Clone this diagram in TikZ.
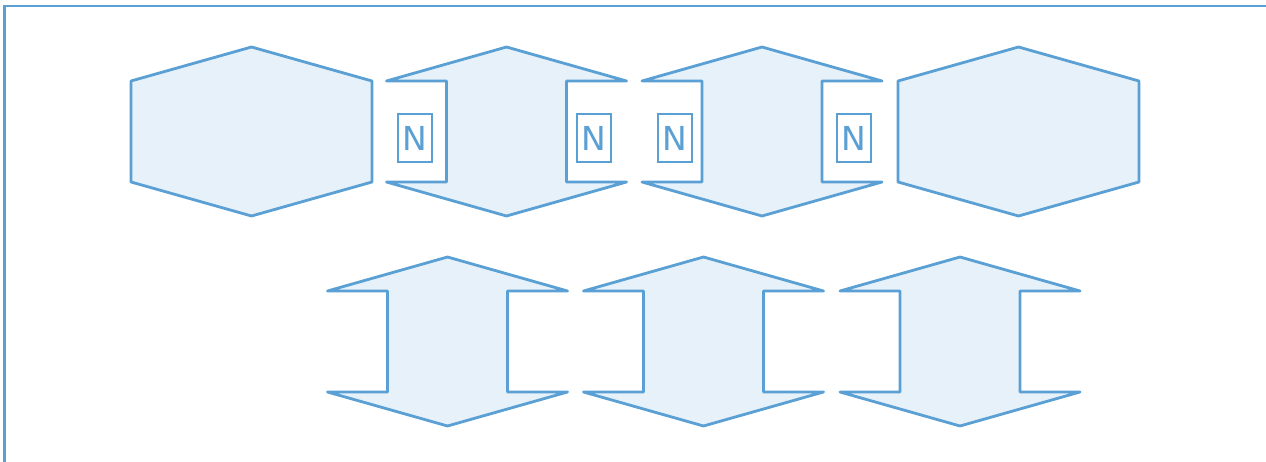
\documentclass[tikz,border=0pt]{standalone}
\usepackage{fontspec}
\setmainfont{DejaVu Sans}
\definecolor{edge}{RGB}{90,160,212}
\definecolor{pale}{RGB}{231,241,249}
\tikzset{
  hexshape/.style={draw=edge, fill=pale, line width=2.8pt, line join=round},
  framebox/.style={draw=edge, line width=2.8pt},
  nbox/.style={draw=edge, line width=2.8pt, fill=white, minimum width=34pt, minimum height=48pt,
    inner sep=0pt, text=edge, font=\fontsize{33}{33}\selectfont, anchor=center}
}
\begin{document}
\begin{tikzpicture}[x=1pt,y=-1pt]
\useasboundingbox (0,0) rectangle (1266,462);
\draw[framebox] (4.7,6) rectangle (1280,480);
% top row: full hexagons
\foreach \c in {251.5,1018.5}{
  \draw[hexshape] (\c-120.5,81) -- (\c,47) -- (\c+120.5,81) -- (\c+120.5,182) -- (\c,216) -- (\c-120.5,182) -- cycle;
}
% notched shapes
\foreach \c/\t/\sa/\sb/\b in {506.5/47/81/182/216, 762/47/81/182/216, 447.5/257/291/392/426, 703.5/257/291/392/426, 960/257/291/392/426}{
  \draw[hexshape] (\c-120,\sa) -- (\c,\t) -- (\c+120,\sa) -- (\c+60,\sa) -- (\c+60,\sb) -- (\c+120,\sb)
    -- (\c,\b) -- (\c-120,\sb) -- (\c-60,\sb) -- (\c-60,\sa) -- cycle;
}
% N boxes
\node[nbox] (n1) at (415,138) {\raisebox{-1.5pt}{N}};
\node[nbox] (n2) at (594,138) {\raisebox{-1.5pt}{N}};
\node[nbox] (n3) at (675,138) {\raisebox{-1.5pt}{N}};
\node[nbox] (n4) at (854,138) {\raisebox{-1.5pt}{N}};
\end{tikzpicture}
\end{document}
